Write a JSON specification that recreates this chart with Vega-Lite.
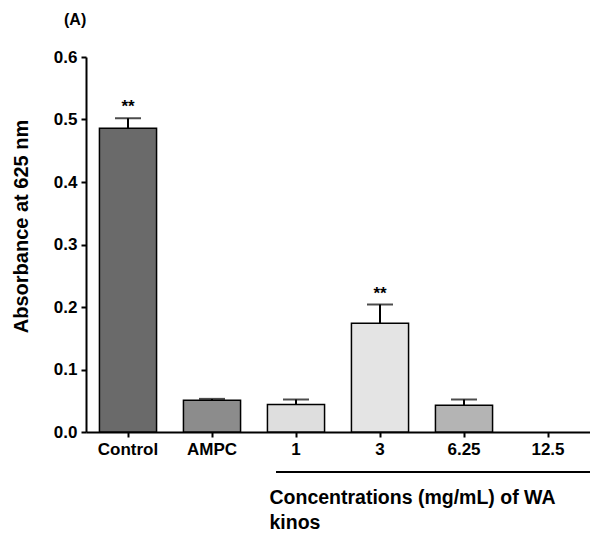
{
  "$schema": "https://vega.github.io/schema/vega-lite/v6.json",
  "autosize": {"type": "none"},
  "padding": {"left": 86, "top": 57, "right": 0, "bottom": 109},
  "width": 504,
  "height": 375,
  "background": "white",
  "config": {
    "view": {"stroke": null},
    "font": "Liberation Sans",
    "axis": {"labelFont": "Liberation Sans", "titleFont": "Liberation Sans", "labelFontWeight": "bold", "titleFontWeight": "bold", "labelColor": "black", "titleColor": "black", "domainColor": "black", "tickColor": "black", "grid": false}
  },
  "data": {
    "values": [
      {"group": "Control", "value": 0.486, "err": 0.016, "top": 0.502, "sig": "**", "fillc": "c0"},
      {"group": "AMPC", "value": 0.051, "err": 0.002, "top": 0.053, "sig": "", "fillc": "c1"},
      {"group": "1", "value": 0.044, "err": 0.008, "top": 0.052, "sig": "", "fillc": "c2"},
      {"group": "3", "value": 0.174, "err": 0.030, "top": 0.204, "sig": "**", "fillc": "c3"},
      {"group": "6.25", "value": 0.043, "err": 0.009, "top": 0.052, "sig": "", "fillc": "c4"},
      {"group": "12.5", "value": 0.0, "err": 0.0, "top": 0.0, "sig": "", "fillc": "c5"}
    ]
  },
  "encoding": {
    "x": {
      "field": "group", "type": "nominal", "sort": null,
      "scale": {"paddingInner": 0.32, "paddingOuter": 0.16},
      "axis": {"title": ["Concentrations (mg/mL) of WA", "kinos"], "labelAngle": 0, "labelFontSize": 17, "labelPadding": 4, "tickSize": 5, "tickWidth": 2, "domainWidth": 2, "titleFontSize": 19.5, "titleAnchor": "start", "titleAlign": "left", "titleX": 183, "titleY": 56, "titleLineHeight": 25, "titleBaseline": "top"}
    }
  },
  "layer": [
    {
      "transform": [{"filter": "datum.value > 0"}],
      "mark": {"type": "bar", "stroke": "black", "strokeWidth": 1.5},
      "encoding": {
        "y": {"field": "value", "type": "quantitative", "scale": {"domain": [0, 0.6], "nice": false}, "axis": {"title": "Absorbance at 625 nm", "values": [0, 0.1, 0.2, 0.3, 0.4, 0.5, 0.6], "format": ".1f", "labelFontSize": 17, "titleFontSize": 20, "titleY": 169, "tickSize": 5, "tickWidth": 2, "domainWidth": 2, "titlePadding": 22, "labelPadding": 4}},
        "color": {"field": "fillc", "type": "nominal", "legend": null, "scale": {"domain": ["c0", "c1", "c2", "c3", "c4", "c5"], "range": ["#6a6a6a", "#8c8c8c", "#dedede", "#e4e4e4", "#b4b4b4", "#ffffff"]}}
      }
    },
    {
      "transform": [{"filter": "datum.err > 0"}],
      "mark": {"type": "rule", "color": "black", "strokeWidth": 2},
      "encoding": {"y": {"field": "value", "type": "quantitative"}, "y2": {"field": "top"}}
    },
    {
      "transform": [{"filter": "datum.err > 0"}],
      "mark": {"type": "tick", "color": "black", "thickness": 2, "size": 26, "orient": "horizontal"},
      "encoding": {"y": {"field": "top", "type": "quantitative"}}
    },
    {
      "mark": {"type": "text", "fontWeight": "bold", "fontSize": 17, "baseline": "bottom", "dy": -2},
      "encoding": {"y": {"field": "top", "type": "quantitative"}, "text": {"field": "sig"}}
    },
    {
      "data": {"values": [{"x1": "1", "x2": "12.5", "yl": -0.064}]},
      "mark": {"type": "rule", "color": "black", "strokeWidth": 2},
      "encoding": {
        "x": {"field": "x1", "type": "nominal", "bandPosition": 0.15},
        "x2": {"field": "x2", "bandPosition": 1.3},
        "y": {"field": "yl", "type": "quantitative"}
      }
    },
    {
      "data": {"values": [{"label": "(A)", "xa": "Control", "ya": 0.66}]},
      "mark": {"type": "text", "fontWeight": "bold", "fontSize": 16, "align": "left", "dx": -64},
      "encoding": {
        "x": {"field": "xa", "type": "nominal"},
        "y": {"field": "ya", "type": "quantitative"},
        "text": {"field": "label"}
      }
    }
  ]
}
